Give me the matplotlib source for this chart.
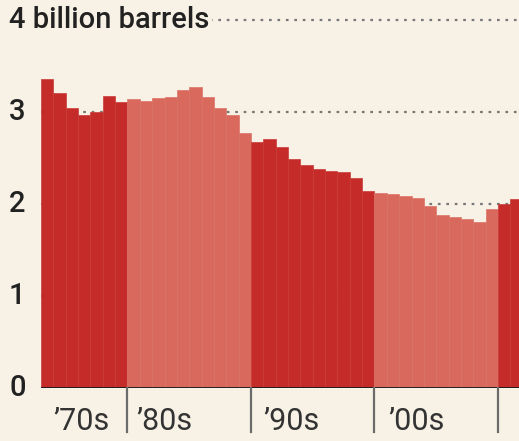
import matplotlib
matplotlib.use('Agg')
import matplotlib.pyplot as plt
import numpy as np

# US crude oil production, billion barrels per year
years = list(range(1973, 2012))
production = [3.36, 3.21, 3.04, 2.97, 3.00, 3.17, 3.11,
              3.14, 3.12, 3.15, 3.16, 3.24, 3.27, 3.16, 3.04, 2.97, 2.77,
              2.67, 2.71, 2.62, 2.49, 2.42, 2.38, 2.36, 2.35, 2.28, 2.14,
              2.12, 2.11, 2.09, 2.07, 1.98, 1.88, 1.86, 1.84, 1.80, 1.95,
              2.00, 2.05]

decade_labels = ['\u201970s', '\u201980s', '\u201990s', '\u201900s']
decade_label_pos = [1974.0, 1980.7, 1991.0, 2001.1]
decade_breaks = [1980, 1990, 2000, 2010]
y_ticks = [0, 1, 2, 3]

bg = '#f7f2e5'
dark = '#c52b28'
light = '#d8695c'

fig = plt.figure(figsize=(5.19, 4.41), dpi=100, facecolor=bg)
ax = fig.add_axes([41/519, 53/441, 478/519, 377.2/441])
ax.set_facecolor(bg)

colors = [dark if (y // 10) % 2 == 1 else light for y in years]
edges = ['#ca3a36' if c == dark else '#db7367' for c in colors]
ax.bar(years, production, width=1.0, align='edge', color=colors,
       edgecolor=edges, linewidth=0.5, zorder=2)

for v in [1, 2, 3, 4]:
    ax.axhline(v, color='#777777', linestyle=(0, (1.2, 2.6)), linewidth=1.6, zorder=1)
ax.axhline(0, color='#1a1a1a', linewidth=2, zorder=3)

ax.set_xlim(1973, 1973 + 478/12.35)
ax.set_ylim(0, 4.1)
for s in ax.spines.values():
    s.set_visible(False)
ax.set_xticks([])
ax.set_yticks([])

ytr = ax.get_yaxis_transform()
lx = (9 - 41) / 478
for v in y_ticks:
    ax.text(lx, v, str(v), transform=ytr, ha='left', va='center',
            fontsize=21, fontfamily='Roboto', fontweight='medium', color='#222222')
ax.text(lx, 4, '4 billion barrels', transform=ytr, ha='left', va='center',
        fontsize=21, fontfamily='Roboto', fontweight='medium', color='#222222',
        bbox=dict(facecolor=bg, edgecolor='none', pad=2), zorder=5)

xtr = ax.get_xaxis_transform()
for b in decade_breaks:
    ax.plot([b, b], [0, -0.117], transform=xtr, color='#6b6b6b',
            linewidth=1.6, clip_on=False, zorder=3)
for lab, p in zip(decade_labels, decade_label_pos):
    ax.text(p, -0.088, lab, transform=xtr, ha='left', va='center',
            fontsize=22, fontfamily='Roboto', color='#333333')

fig.savefig('out.png', dpi=100, facecolor=bg)
